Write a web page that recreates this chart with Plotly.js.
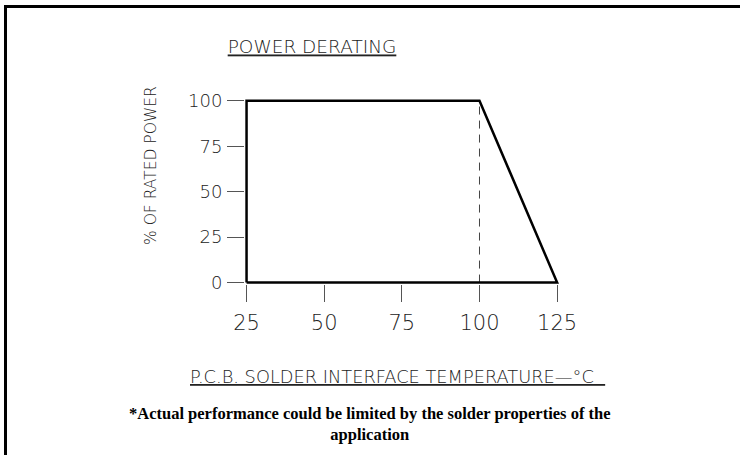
<!DOCTYPE html>
<html>
<head>
<meta charset="utf-8">
<script src="https://cdn.plot.ly/plotly-3.0.1.min.js"></script>
<style>
  html, body { margin: 0; padding: 0; background: #fff; }
  #wrap { position: relative; width: 740px; height: 455px; overflow: hidden; }
  #chart { width: 740px; height: 455px; }
  #frame { position: absolute; left: 4px; top: 5px; width: 760px; height: 470px;
           border-left: 3px solid #000; border-top: 3px solid #000; pointer-events: none; }
</style>
</head>
<body>
<div id="wrap">
  <div id="chart"></div>
  <div id="frame"></div>
</div>
<script>
// Data
var temperature = [25, 25, 100, 125, 25];
var ratedPower  = [0, 100, 100, 0, 0];
var kneeTemp = [100, 100];
var kneePower = [0, 100];
var xTicks = [25, 50, 75, 100, 125];
var yTicks = [0, 25, 50, 75, 100];
var chartTitle = 'POWER DERATING';
var xTitle = 'P.C.B. SOLDER INTERFACE TEMPERATURE—°C';
var yTitle = '% OF RATED POWER';
var footnote = '*Actual performance could be limited by the solder properties of the<br>application';

var cad = '"DejaVu Sans ExtraLight", "DejaVu Sans", sans-serif';

var L = 245, T = 99, W = 314, H = 185;
function px2x(p) { return (p - L) / W; }
function px2y(p) { return (T + H - p) / H; }

var traces = [
  {
    x: kneeTemp, y: kneePower, mode: 'lines', type: 'scatter',
    line: { color: '#444', width: 1, dash: '8px,6px' },
    hoverinfo: 'skip', showlegend: false
  },
  {
    x: temperature, y: ratedPower, mode: 'lines', type: 'scatter',
    line: { color: '#000', width: 2.5 },
    cliponaxis: false, showlegend: false
  }
];

var layout = {
  width: 740, height: 455,
  margin: { l: L, r: 740 - L - W, t: T, b: 455 - T - H },
  paper_bgcolor: '#fff', plot_bgcolor: '#fff',
  showlegend: false,
  title: {
    text: '<u>' + chartTitle + '</u>',
    x: 312 / 740, xref: 'container', xanchor: 'center',
    y: 1 - 47 / 455, yref: 'container', yanchor: 'middle',
    font: { family: cad, size: 18.5, color: '#222', weight: 200 }
  },
  xaxis: {
    range: [24.5, 125.6], showgrid: false, zeroline: false, showline: false,
    tickmode: 'array', tickvals: xTicks, ticktext: xTicks.map(String),
    ticks: 'outside', ticklen: 17, tickwidth: 1, tickcolor: '#555',
    ticklabelstandoff: 3,
    tickfont: { family: cad, size: 21, color: '#222', weight: 200 },
    fixedrange: true
  },
  yaxis: {
    range: [-0.8, 101], showgrid: false, zeroline: false, showline: false,
    tickmode: 'array', tickvals: yTicks, ticktext: yTicks.map(String),
    ticks: 'outside', ticklen: 17, tickwidth: 1, tickcolor: '#555',
    ticklabelstandoff: 1,
    tickfont: { family: cad, size: 18, color: '#222', weight: 200 },
    fixedrange: true
  },
  annotations: [
    {
      text: yTitle, textangle: -90,
      xref: 'paper', yref: 'paper', x: px2x(151), y: px2y(166),
      xanchor: 'center', yanchor: 'middle', showarrow: false,
      font: { family: cad, size: 15.5, color: '#222', weight: 200 }
    },
    {
      text: '<u>' + xTitle + '  </u>',
      xref: 'paper', yref: 'paper', x: px2x(397), y: px2y(376),
      xanchor: 'center', yanchor: 'middle', showarrow: false,
      font: { family: cad, size: 17.8, color: '#222', weight: 200 }
    },
    {
      text: '<b>' + footnote + '</b>',
      xref: 'paper', yref: 'paper', x: px2x(370), y: px2y(424),
      xanchor: 'center', yanchor: 'middle', showarrow: false, align: 'center',
      font: { family: '"Liberation Serif", "Times New Roman", serif', size: 16.5, color: '#000' }
    }
  ]
};

Plotly.newPlot('chart', traces, layout, { displayModeBar: false, staticPlot: true });
</script>
</body>
</html>
